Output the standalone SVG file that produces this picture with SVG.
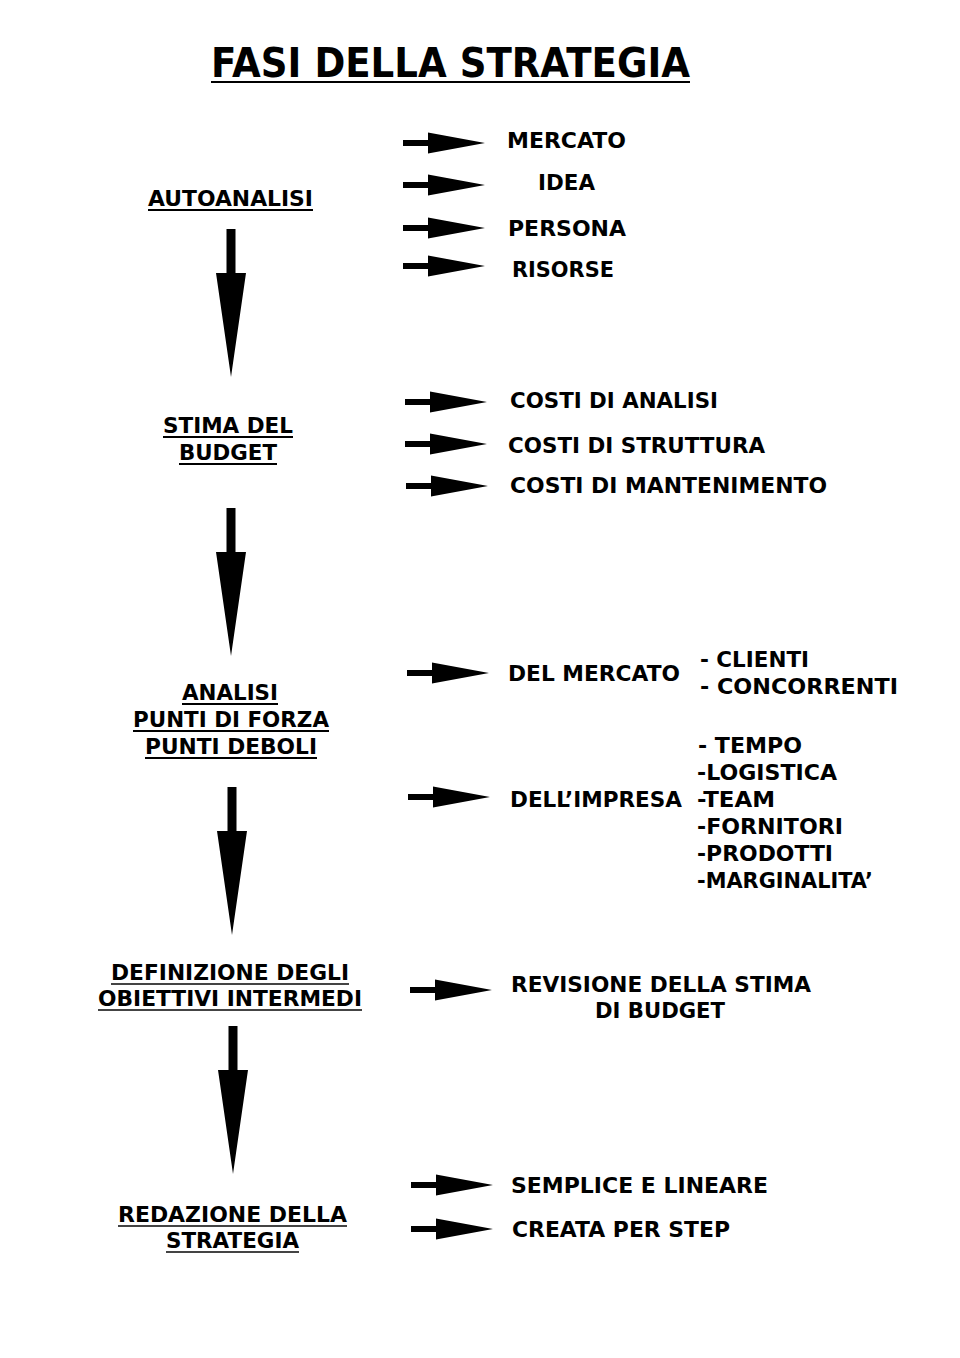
<svg xmlns="http://www.w3.org/2000/svg" xmlns:xlink="http://www.w3.org/1999/xlink" width="960" height="1358" viewBox="0 0 960 1358">
<style>
text{font-family:"DejaVu Sans","Liberation Sans",sans-serif;font-weight:bold;font-size:20.5px;fill:#000}
.title{font-size:40px}
.ul{stroke:#000;stroke-width:2}
.ulg{stroke:#444;stroke-width:2}
.arr{fill:#000}
</style>
<defs>
<path id="ra" d="M0,-3 H25 V-10.5 L82,0 L25,10.5 V3 H0 Z"/>
<path id="da" d="M-4.5,0 V44 H-15 L0,148 L15,44 H4.5 V0 Z"/>
</defs>
<rect width="960" height="1358" fill="#fff"/>
<g id="title">
<text class="title" x="211" y="77" textLength="479" lengthAdjust="spacingAndGlyphs">FASI DELLA STRATEGIA</text>
<line class="ul" x1="211" y1="82" x2="690" y2="82" stroke-width="2.5"/>
</g>
<g id="autoanalisi">
<text x="148" y="206" textLength="165" lengthAdjust="spacingAndGlyphs">AUTOANALISI</text>
<line class="ul" x1="148" y1="210" x2="313" y2="210"/>
</g>
<g id="stima">
<text x="163" y="433" textLength="130" lengthAdjust="spacingAndGlyphs">STIMA DEL</text>
<line class="ul" x1="163" y1="437" x2="293" y2="437"/>
<text x="179" y="460" textLength="98" lengthAdjust="spacingAndGlyphs">BUDGET</text>
<line class="ul" x1="179" y1="464" x2="277" y2="464"/>
</g>
<g id="analisi">
<text x="182" y="700" textLength="96" lengthAdjust="spacingAndGlyphs">ANALISI</text>
<line class="ul" x1="182" y1="704" x2="278" y2="704"/>
<text x="133" y="727" textLength="196" lengthAdjust="spacingAndGlyphs">PUNTI DI FORZA</text>
<line class="ul" x1="133" y1="731" x2="329" y2="731"/>
<text x="145" y="754" textLength="172" lengthAdjust="spacingAndGlyphs">PUNTI DEBOLI</text>
<line class="ul" x1="145" y1="758" x2="317" y2="758"/>
</g>
<g id="definizione">
<text x="111" y="980" textLength="238" lengthAdjust="spacingAndGlyphs">DEFINIZIONE DEGLI</text>
<line class="ulg" x1="111" y1="984" x2="349" y2="984"/>
<text x="98" y="1006" textLength="264" lengthAdjust="spacingAndGlyphs">OBIETTIVI INTERMEDI</text>
<line class="ulg" x1="98" y1="1010" x2="362" y2="1010"/>
</g>
<g id="redazione">
<text x="118" y="1222" textLength="229" lengthAdjust="spacingAndGlyphs">REDAZIONE DELLA</text>
<line class="ulg" x1="118" y1="1226" x2="347" y2="1226"/>
<text x="166" y="1248" textLength="133" lengthAdjust="spacingAndGlyphs">STRATEGIA</text>
<line class="ulg" x1="166" y1="1252" x2="299" y2="1252"/>
</g>
<g id="autoanalisi-items">
<text x="507" y="148" textLength="119" lengthAdjust="spacingAndGlyphs">MERCATO</text>
<text x="538" y="190" textLength="57" lengthAdjust="spacingAndGlyphs">IDEA</text>
<text x="508" y="236" textLength="118" lengthAdjust="spacingAndGlyphs">PERSONA</text>
<text x="512" y="277" textLength="102" lengthAdjust="spacingAndGlyphs">RISORSE</text>
</g>
<g id="budget-items">
<text x="510" y="408" textLength="208" lengthAdjust="spacingAndGlyphs">COSTI DI ANALISI</text>
<text x="508" y="453" textLength="257" lengthAdjust="spacingAndGlyphs">COSTI DI STRUTTURA</text>
<text x="510" y="493" textLength="317" lengthAdjust="spacingAndGlyphs">COSTI DI MANTENIMENTO</text>
</g>
<g id="mercato">
<text x="508" y="681" textLength="172" lengthAdjust="spacingAndGlyphs">DEL MERCATO</text>
<text x="700" y="667" textLength="109" lengthAdjust="spacingAndGlyphs">- CLIENTI</text>
<text x="700" y="694" textLength="198" lengthAdjust="spacingAndGlyphs">- CONCORRENTI</text>
</g>
<g id="impresa">
<text x="510" y="807" textLength="172" lengthAdjust="spacingAndGlyphs">DELL’IMPRESA</text>
<text x="698" y="753" textLength="104" lengthAdjust="spacingAndGlyphs">- TEMPO</text>
<text x="697" y="780" textLength="140" lengthAdjust="spacingAndGlyphs">-LOGISTICA</text>
<text x="697" y="807" textLength="78" lengthAdjust="spacingAndGlyphs">-TEAM</text>
<text x="697" y="834" textLength="146" lengthAdjust="spacingAndGlyphs">-FORNITORI</text>
<text x="697" y="861" textLength="136" lengthAdjust="spacingAndGlyphs">-PRODOTTI</text>
<text x="697" y="888" textLength="176" lengthAdjust="spacingAndGlyphs">-MARGINALITA’</text>
</g>
<g id="revisione">
<text x="511" y="992" textLength="300" lengthAdjust="spacingAndGlyphs">REVISIONE DELLA STIMA</text>
<text x="595" y="1018" textLength="130" lengthAdjust="spacingAndGlyphs">DI BUDGET</text>
</g>
<g id="strategia-items">
<text x="511" y="1193" textLength="257" lengthAdjust="spacingAndGlyphs">SEMPLICE E LINEARE</text>
<text x="512" y="1237" textLength="218" lengthAdjust="spacingAndGlyphs">CREATA PER STEP</text>
</g>
<g id="connectors" class="arr">
<use xlink:href="#da" x="231" y="229"/>
<use xlink:href="#da" x="231" y="508"/>
<use xlink:href="#da" x="232" y="787"/>
<use xlink:href="#da" x="233" y="1026"/>
<use xlink:href="#ra" x="403" y="143"/>
<use xlink:href="#ra" x="403" y="185"/>
<use xlink:href="#ra" x="403" y="228"/>
<use xlink:href="#ra" x="403" y="266"/>
<use xlink:href="#ra" x="405" y="402"/>
<use xlink:href="#ra" x="405" y="444"/>
<use xlink:href="#ra" x="406" y="486"/>
<use xlink:href="#ra" x="407" y="673"/>
<use xlink:href="#ra" x="408" y="797"/>
<use xlink:href="#ra" x="410" y="990"/>
<use xlink:href="#ra" x="411" y="1185"/>
<use xlink:href="#ra" x="411" y="1229"/>
</g>
</svg>
